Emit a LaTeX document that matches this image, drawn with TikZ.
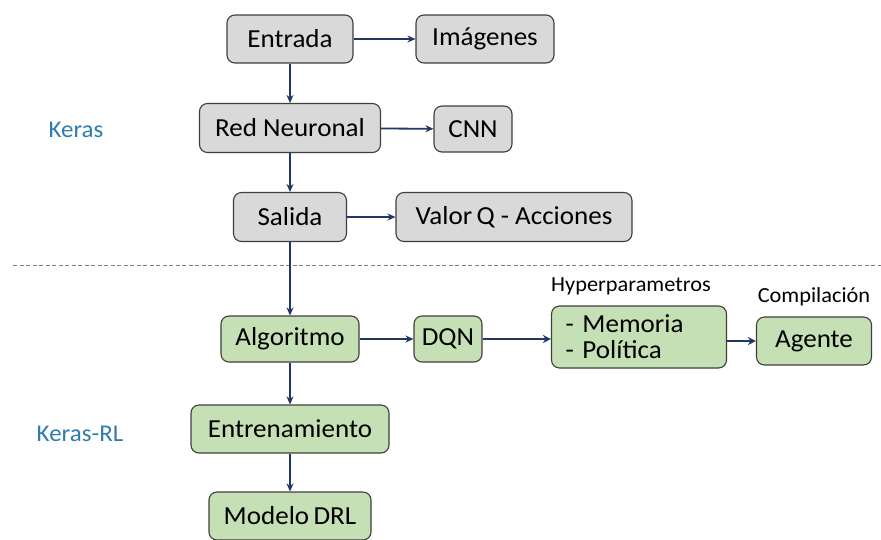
\documentclass[tikz,border=0pt]{standalone}
\usepackage{fontspec}
\setmainfont{Carlito}[FakeStretch=1.04]
\usetikzlibrary{arrows.meta}
\definecolor{boxgray}{HTML}{D9D9D9}
\definecolor{boxgreen}{HTML}{C5E0B4}
\definecolor{edgegray}{HTML}{3F3F3F}
\definecolor{navy}{HTML}{1F3864}
\definecolor{labelblue}{HTML}{2E7DAF}
\tikzset{
  base/.style={draw=edgegray, line width=1.1pt, rounded corners=8pt, inner sep=0pt,
    font=\fontsize{26}{28}\selectfont, text=black, anchor=center},
  graybox/.style={base, fill=boxgray},
  greenbox/.style={base, fill=boxgreen},
  link/.style={draw=navy, line width=1.8pt, -{Stealth[length=8pt,width=7pt]}},
  thicklink/.style={draw=navy, line width=2.8pt, -{Stealth[length=8pt,width=8pt]}},
  sidelabel/.style={text=labelblue, font=\fontsize{24}{26}\selectfont},
  smalllabel/.style={text=black, font=\fontsize{21.5}{23}\selectfont},
}
\begin{document}
\begin{tikzpicture}[x=1pt,y=-1pt]
\useasboundingbox (0,0) rectangle (881,539);
\fill[white] (0,0) rectangle (881,539);

% Keras section
\node[graybox, minimum width=126pt, minimum height=48pt] (entrada) at (290,39) {Entrada};
\node[graybox, minimum width=138pt, minimum height=48pt] (imagenes) at (485,39) {Imágenes};
\node[graybox, minimum width=181pt, minimum height=49pt] (red) at (290,128) {Red Neuronal};
\node[graybox, minimum width=78pt, minimum height=46pt] (cnn) at (473,129) {CNN};
\node[graybox, minimum width=113pt, minimum height=49pt] (salida) at (290,217) {Salida};
\node[graybox, minimum width=236pt, minimum height=49pt] (valor) at (514,217) {Valor\,Q - Acciones};

% section divider
\coordinate (divL) at (13,265);
\coordinate (divR) at (881,265);
\draw[gray, line width=1pt, dash pattern=on 4pt off 2.5pt] (divL) -- (divR);

% Keras-RL section
\node[greenbox, minimum width=138pt, minimum height=46pt] (algo) at (290,339) {Algoritmo};
\node[greenbox, minimum width=68pt, minimum height=46pt] (dqn) at (448,339) {DQN};
\node[greenbox, minimum width=175pt, minimum height=62pt, text width=147pt, align=left] (hyper) at (639,337)
  {- Memoria\\[-2pt]- Política};
\node[greenbox, minimum width=115pt, minimum height=48pt] (agente) at (814,341) {Agente};
\node[greenbox, minimum width=198pt, minimum height=48pt] (entren) at (290,429) {Entrenamiento};
\node[greenbox, minimum width=162pt, minimum height=48pt] (modelo) at (290,516) {Modelo\,DRL};

% section and step labels
\node[sidelabel] (keras) at (76,130) {Keras};
\node[sidelabel] (kerasrl) at (80,434) {Keras-RL};
\node[smalllabel] (hyplabel) at (631,286) {Hyperparametros};
\node[smalllabel] (complabel) at (814,297) {Compilación};

% connectors
\draw[link] (entrada) -- (imagenes);
\draw[link] (red) -- (cnn);
\draw[link] (salida) -- (valor);
\draw[link] (entrada.south) -- (red.north);
\draw[link] (red.south) -- (salida.north);
\draw[link] (salida.south) -- (algo.north);
\draw[link] (algo.south) -- (entren.north);
\draw[link] (entren.south) -- (modelo.north);
\draw[link] (algo) -- (dqn);
\draw[thicklink] (dqn) -- (hyper.west |- dqn);
\draw[thicklink] (hyper.east |- agente) -- (agente);
\end{tikzpicture}
\end{document}
